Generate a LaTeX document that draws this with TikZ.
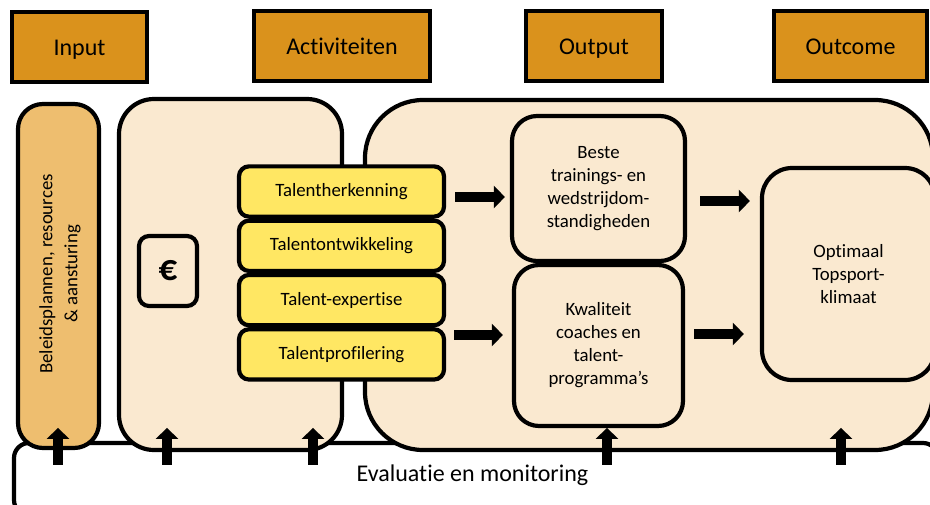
\documentclass[tikz,border=0pt]{standalone}
\usepackage{fontspec}
\setmainfont{Carlito}[Ligatures=NoCommon]
\usetikzlibrary{positioning,calc,arrows.meta}

\definecolor{headorange}{HTML}{DA921C}
\definecolor{inputorange}{HTML}{EEBE6F}
\definecolor{lightbeige}{HTML}{FAE9D0}
\definecolor{talentyellow}{HTML}{FFE763}

\tikzset{
  header/.style={draw, line width=4.2pt, fill=headorange, minimum height=70pt, text height=17pt, text depth=1pt, font=\fontsize{24}{28}\selectfont},
  panel/.style={draw, line width=4.2pt, fill=lightbeige, align=center, font=\fontsize{18.8}{23}\selectfont},
  talentbox/.style={draw, line width=4.2pt, fill=talentyellow, rounded corners=10pt, minimum width=205pt, minimum height=50.3pt, font=\fontsize{18.8}{23}\selectfont},
  blockarrow/.style={line width=10pt, -{Triangle[length=11pt,width=22pt]}}
}

\begin{document}
\begin{tikzpicture}[x=1pt,y=-1pt]
    \clip (0,0) rectangle (930,504);

    % Evaluation strip (behind everything)
    \node[draw, line width=4.2pt, fill=white, rounded corners=15pt, minimum width=924pt, minimum height=72pt,
          font=\fontsize{24}{28}\selectfont] (eval) at (476,479) {};
    \node[font=\fontsize{24}{28}\selectfont] (evaltxt) at (472.5,475) {Evaluatie en monitoring};

    % Headers
    \node[header, minimum width=135pt] (inp) at (79.5,47) {Input};
    \node[header, minimum width=176pt] (act) at (342,46) {Activiteiten};
    \node[header, minimum width=136pt] (outp) at (594,46) {Output};
    \node[header, minimum width=153pt] (outc) at (850.5,46) {Outcome};

    % Input
    \node[draw, line width=4.2pt, fill=inputorange, rounded corners=25pt, minimum width=81pt, minimum height=344pt] (beleid) at (58.5,276) {};
    \node[rotate=90, align=center, font=\fontsize{18.8}{25}\selectfont] (beleidtxt) at (60,274) {Beleidsplannen, resources\\ \& aansturing};

    % Activities
    \node[panel, rounded corners=35pt, minimum width=223pt, minimum height=351pt] (activ) at (230.5,274.5) {};
    \node[panel, rounded corners=10pt, minimum width=58pt, minimum height=70pt, inner sep=0pt, font=\fontsize{37}{40}\selectfont\bfseries] (euro) at (168,271) {€};

    % Output / outcome area
    \node[panel, rounded corners=58pt, minimum width=568pt, minimum height=350pt] (result) at (649,275) {};

    \foreach \name/\txt [count=\i from 0] in {herk/Talentherkenning, ontw/Talentontwikkeling, exp/Talent-expertise, prof/Talentprofilering} {
        \node[talentbox] (\name) at (341.5,{191.5+54.3*\i}) {\txt};
    }

    \node[panel, rounded corners=25pt, minimum width=173pt, minimum height=145pt] (beste) at (598.5,188.5) {Beste\\trainings- en\\wedstrijdom-\\standigheden};
    \node[panel, rounded corners=25pt, minimum width=169pt, minimum height=161pt] (kwal) at (598.5,345.5) {Kwaliteit\\coaches en\\talent-\\programma’s};
    \node[panel, rounded corners=30pt, minimum width=173pt, minimum height=212pt] (opt) at (848.5,274) {Optimaal\\Topsport-\\klimaat};

    % Arrows
    \draw[blockarrow] ($(herk.east)+(9,5.5)$) -- ($(beste.west |- herk.east)+(-5,5.5)$);
    \draw[blockarrow] ($(prof.east)+(8,-19.4)$) -- ($(kwal.west |- prof.east)+(-9,-19.4)$);
    \draw[blockarrow] ($(beste.east)+(13,12.5)$) -- ($(opt.west |- beste.east)+(-10,12.5)$);
    \draw[blockarrow] ($(kwal.east)+(9,-11.5)$) -- ($(opt.west |- kwal.east)+(-16,-11.5)$);

    \foreach \x in {58,167,313,607,841} {
        \draw[blockarrow] ($(\x,0 |- eval.north)+(0,24)$) -- ++(0,-37);
    }
\end{tikzpicture}
\end{document}
